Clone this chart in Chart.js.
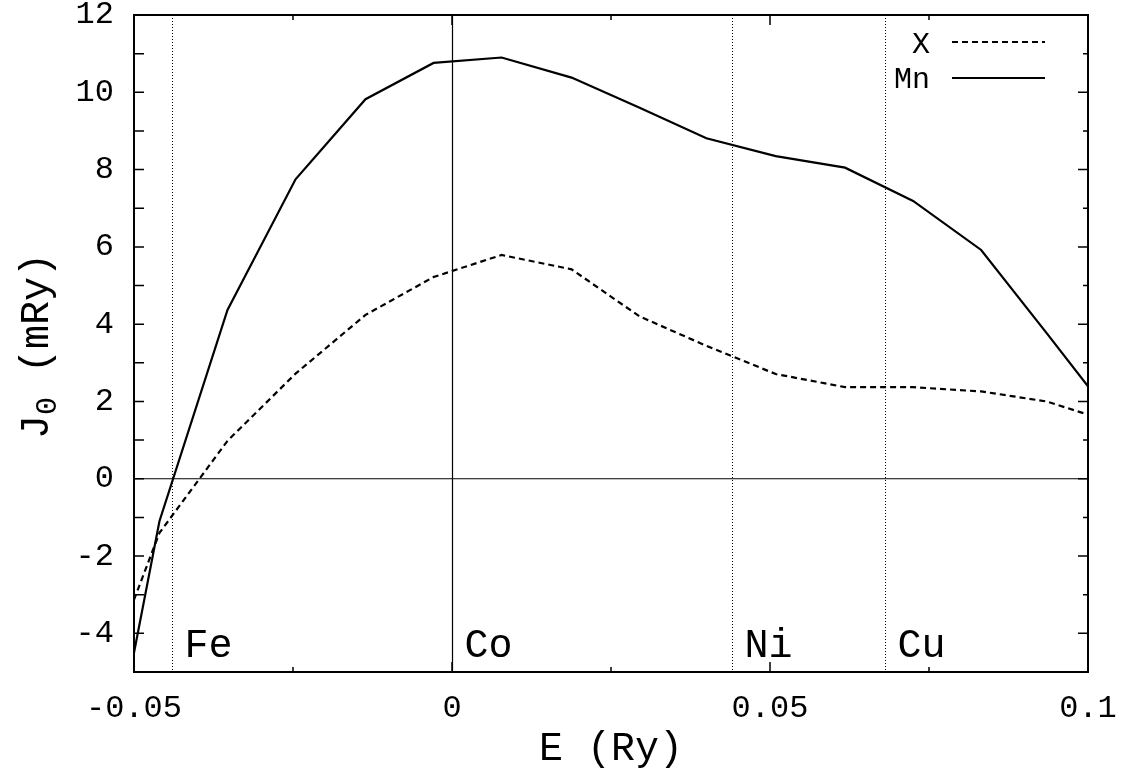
<!DOCTYPE html>
<html>
<head>
<meta charset="utf-8">
<script src="https://cdn.jsdelivr.net/npm/chart.js@4.4.0/dist/chart.umd.min.js"></script>
<style>
	html, body { margin: 0; padding: 0; background: #fff; }
	#wrap { width: 1126px; height: 774px; }
</style>
</head>
<body>
<div id="wrap"><canvas id="grafico" width="1126" height="774"></canvas></div>
<script>
// dados
const energia = [-0.05, -0.046, -0.0353, -0.0246, -0.0136, -0.0029, 0.0078, 0.0188, 0.0295, 0.0400, 0.0509, 0.0618, 0.0725, 0.0832, 0.0935, 0.1];
const jMn = [-4.5, -1.1, 4.37, 7.75, 9.82, 10.76, 10.9, 10.38, 9.6, 8.81, 8.35, 8.05, 7.19, 5.92, 3.77, 2.39];
const jX = [-3.13, -1.4, 0.98, 2.72, 4.24, 5.22, 5.79, 5.42, 4.2, 3.44, 2.71, 2.37, 2.37, 2.26, 2.0, 1.66];

const elementos = ['Fe', 'Co', 'Ni', 'Cu'];
const posElementos = [-0.044, 0, 0.0441, 0.0681];

const ticksX = [-0.05, 0, 0.05, 0.1];
const ticksXMenores = [-0.025, 0.025, 0.075];
const ticksY = [-4, -2, 0, 2, 4, 6, 8, 10, 12];
const ticksYMenores = [-5, -3, -1, 1, 3, 5, 7, 9, 11];

const FONTE = "'Liberation Mono', 'DejaVu Sans Mono', monospace";

const desenhos = {
	id: 'desenhos',
	afterDatasetsDraw(chart) {
		const ctx = chart.ctx;
		const a = chart.chartArea;
		const sx = chart.scales.x, sy = chart.scales.y;
		ctx.save();
		ctx.strokeStyle = '#000';
		ctx.fillStyle = '#000';

		// linha do zero
		ctx.lineWidth = 1.2;
		ctx.beginPath();
		ctx.moveTo(a.left, sy.getPixelForValue(0));
		ctx.lineTo(a.right, sy.getPixelForValue(0));
		ctx.stroke();

		// linhas verticais dos elementos
		posElementos.forEach((e, i) => {
			const px = Math.round(sx.getPixelForValue(e)) + 0.5;
			ctx.setLineDash(e === 0 ? [] : [1, 2]);
			ctx.lineWidth = e === 0 ? 1.2 : 1;
			ctx.beginPath();
			ctx.moveTo(px, a.top);
			ctx.lineTo(px, a.bottom);
			ctx.stroke();
			ctx.setLineDash([]);
			ctx.font = '40px ' + FONTE;
			ctx.textAlign = 'left';
			ctx.textBaseline = 'alphabetic';
			ctx.fillText(elementos[i], px + 12, a.bottom - 15);
		});

		// moldura
		ctx.lineWidth = 2;
		ctx.strokeRect(a.left, a.top, a.right - a.left, a.bottom - a.top);

		// marcas para dentro
		ctx.lineWidth = 1.5;
		ctx.beginPath();
		ticksX.concat(ticksXMenores).forEach(v => {
			const px = sx.getPixelForValue(v);
			const t = ticksX.includes(v) ? 10 : 5;
			ctx.moveTo(px, a.bottom); ctx.lineTo(px, a.bottom - t);
			ctx.moveTo(px, a.top); ctx.lineTo(px, a.top + t);
		});
		ticksY.concat(ticksYMenores).forEach(v => {
			const py = sy.getPixelForValue(v);
			const t = ticksY.includes(v) ? 10 : 5;
			ctx.moveTo(a.left, py); ctx.lineTo(a.left + 10, py);
			ctx.moveTo(a.right, py); ctx.lineTo(a.right - t, py);
		});
		ctx.stroke();

		// legenda
		ctx.font = '30px ' + FONTE;
		ctx.textAlign = 'right';
		ctx.textBaseline = 'alphabetic';
		ctx.fillText('X', 930, 53);
		ctx.fillText('Mn', 930, 88);
		ctx.lineWidth = 2;
		ctx.setLineDash([6, 4]);
		ctx.beginPath();
		ctx.moveTo(952, 42); ctx.lineTo(1045, 42);
		ctx.stroke();
		ctx.setLineDash([]);
		ctx.beginPath();
		ctx.moveTo(952, 78); ctx.lineTo(1045, 78);
		ctx.stroke();

		// titulos dos eixos
		ctx.font = '40px ' + FONTE;
		ctx.textAlign = 'center';
		ctx.fillText('E (Ry)', (a.left + a.right) / 2, 760);

		ctx.translate(48, 346);
		ctx.rotate(-Math.PI / 2);
		ctx.textAlign = 'left';
		const wJ = ctx.measureText('J').width;
		const wR = ctx.measureText(' (mRy)').width;
		ctx.font = '30px ' + FONTE;
		const w0 = ctx.measureText('0').width;
		const total = wJ + w0 + wR;
		let x0 = -total / 2;
		ctx.font = '40px ' + FONTE;
		ctx.fillText('J', x0, 0);
		ctx.font = '30px ' + FONTE;
		ctx.fillText('0', x0 + wJ, 8);
		ctx.font = '40px ' + FONTE;
		ctx.fillText(' (mRy)', x0 + wJ + w0, 0);
		ctx.restore();
	}
};

const pontos = (ys) => energia.map((e, i) => ({ x: e, y: ys[i] }));

new Chart(document.getElementById('grafico'), {
	type: 'line',
	data: {
		datasets: [{
			label: 'X',
			data: pontos(jX),
			borderColor: '#000',
			borderWidth: 2.2,
			borderDash: [6, 4],
			pointRadius: 0,
			tension: 0,
			fill: false
		}, {
			label: 'Mn',
			data: pontos(jMn),
			borderColor: '#000',
			borderWidth: 2.2,
			pointRadius: 0,
			tension: 0,
			fill: false
		}]
	},
	options: {
		responsive: false,
		animation: false,
		layout: { padding: { left: 0, top: 15, right: 38, bottom: 0 } },
		plugins: {
			legend: { display: false },
			tooltip: { enabled: false },
			title: { display: false }
		},
		scales: {
			x: {
				type: 'linear',
				min: -0.05,
				max: 0.1,
				grid: { display: false },
				border: { display: false },
				afterBuildTicks: (s) => { s.ticks = ticksX.map(v => ({ value: v })); },
				afterFit: (s) => { s.height = 102; s.paddingLeft = 0; s.paddingRight = 0; },
				ticks: {
					color: '#000',
					padding: 9,
					maxRotation: 0,
					font: { family: FONTE, size: 32 },
					callback: (v) => String(Number(Number(v).toFixed(3)))
				}
			},
			y: {
				type: 'linear',
				min: -5,
				max: 12,
				grid: { display: false },
				border: { display: false },
				afterBuildTicks: (s) => { s.ticks = ticksY.map(v => ({ value: v })); },
				afterFit: (s) => { s.width = 134; s.paddingTop = 0; s.paddingBottom = 0; },
				ticks: {
					color: '#000',
					padding: 12,
					font: { family: FONTE, size: 32 },
					callback: (v) => String(v)
				}
			}
		}
	},
	plugins: [desenhos]
});
</script>
</body>
</html>
